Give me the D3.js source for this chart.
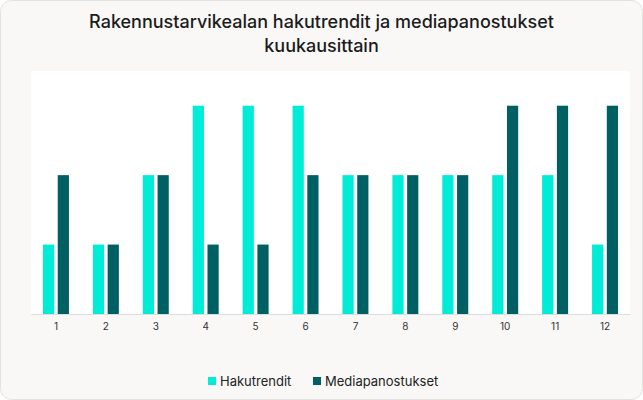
<!DOCTYPE html>
<html>
<head>
<meta charset="utf-8">
<script src="https://cdn.jsdelivr.net/npm/d3@7"></script>
<style>
  body { margin: 0; background: #fff; font-family: Inter, "Noto Sans", sans-serif; }
</style>
</head>
<body>
<div id="chart"></div>
<script>
// data
var months = ['1', '2', '3', '4', '5', '6', '7', '8', '9', '10', '11', '12'];
var seriesNames = ['Hakutrendit', 'Mediapanostukset'];
var hakutrendit = [1, 1, 2, 3, 3, 3, 2, 2, 2, 2, 2, 1];
var mediapanostukset = [2, 1, 2, 1, 1, 2, 2, 2, 2, 3, 3, 3];
var colors = ['#00ecd6', '#005f63'];

var W = 643, H = 400;
var plot = {left: 31, right: 630, top: 71, bottom: 314};

var svg = d3.select('#chart').append('svg')
  .attr('width', W)
  .attr('height', H);

// card
svg.append('rect')
  .attr('x', 0.5).attr('y', 0.5)
  .attr('width', W - 1).attr('height', H - 1)
  .attr('rx', 11)
  .attr('fill', '#f9f8f6')
  .attr('stroke', '#e2e2e0');

// title
svg.append('text')
  .attr('x', W / 2).attr('text-anchor', 'middle')
  .attr('font-size', 18).attr('font-weight', 500).attr('fill', '#1c1c1c')
  .selectAll('tspan')
  .data(['Rakennustarvikealan hakutrendit ja mediapanostukset', 'kuukausittain'])
  .enter().append('tspan')
  .attr('x', W / 2)
  .attr('y', function(d, i) { return 28 + i * 23.5; })
  .text(function(d) { return d; });

// plot bg
svg.append('rect')
  .attr('x', plot.left).attr('y', plot.top)
  .attr('width', plot.right - plot.left)
  .attr('height', plot.bottom - plot.top)
  .attr('fill', '#ffffff');

var x0 = d3.scaleBand().domain(months)
  .range([plot.left, plot.right])
  .paddingInner(0.48).paddingOuter(0.24);

var x1 = d3.scaleBand().domain(seriesNames)
  .range([0, x0.bandwidth()])
  .paddingInner(0.24);

var y = d3.scaleLinear().domain([0, 3.5]).range([plot.bottom, plot.top]);

var rows = months.map(function(m, i) {
  return {month: m, values: [hakutrendit[i], mediapanostukset[i]]};
});

var groups = svg.selectAll('.month').data(rows)
  .enter().append('g').attr('class', 'month')
  .attr('transform', function(d) { return 'translate(' + x0(d.month) + ',0)'; });

groups.selectAll('rect')
  .data(function(d) { return d.values.map(function(v, j) { return {name: seriesNames[j], value: v, j: j}; }); })
  .enter().append('rect')
  .attr('x', function(d) { return x1(d.name); })
  .attr('y', function(d) { return y(d.value); })
  .attr('width', x1.bandwidth())
  .attr('height', function(d) { return y(0) - y(d.value); })
  .attr('fill', function(d) { return colors[d.j]; });

// x axis
var xAxis = svg.append('g')
  .attr('transform', 'translate(0,' + plot.bottom + ')')
  .call(d3.axisBottom(x0).tickSize(0).tickPadding(9).tickSizeOuter(0));
xAxis.select('.domain').attr('stroke', '#dddddd');
xAxis.selectAll('text')
  .attr('font-family', 'Inter, sans-serif')
  .attr('font-size', 10).attr('fill', '#333');

// legend
var legend = svg.append('g').attr('transform', 'translate(0,381)');
var legX = [208, 313];
seriesNames.forEach(function(name, i) {
  legend.append('rect')
    .attr('x', legX[i]).attr('y', -4)
    .attr('width', 8).attr('height', 8)
    .attr('fill', colors[i]);
  legend.append('text')
    .attr('x', legX[i] + 12).attr('y', 0)
    .attr('dy', '0.35em')
    .attr('font-size', 13).attr('fill', '#222')
    .text(name);
});
</script>
</body>
</html>
